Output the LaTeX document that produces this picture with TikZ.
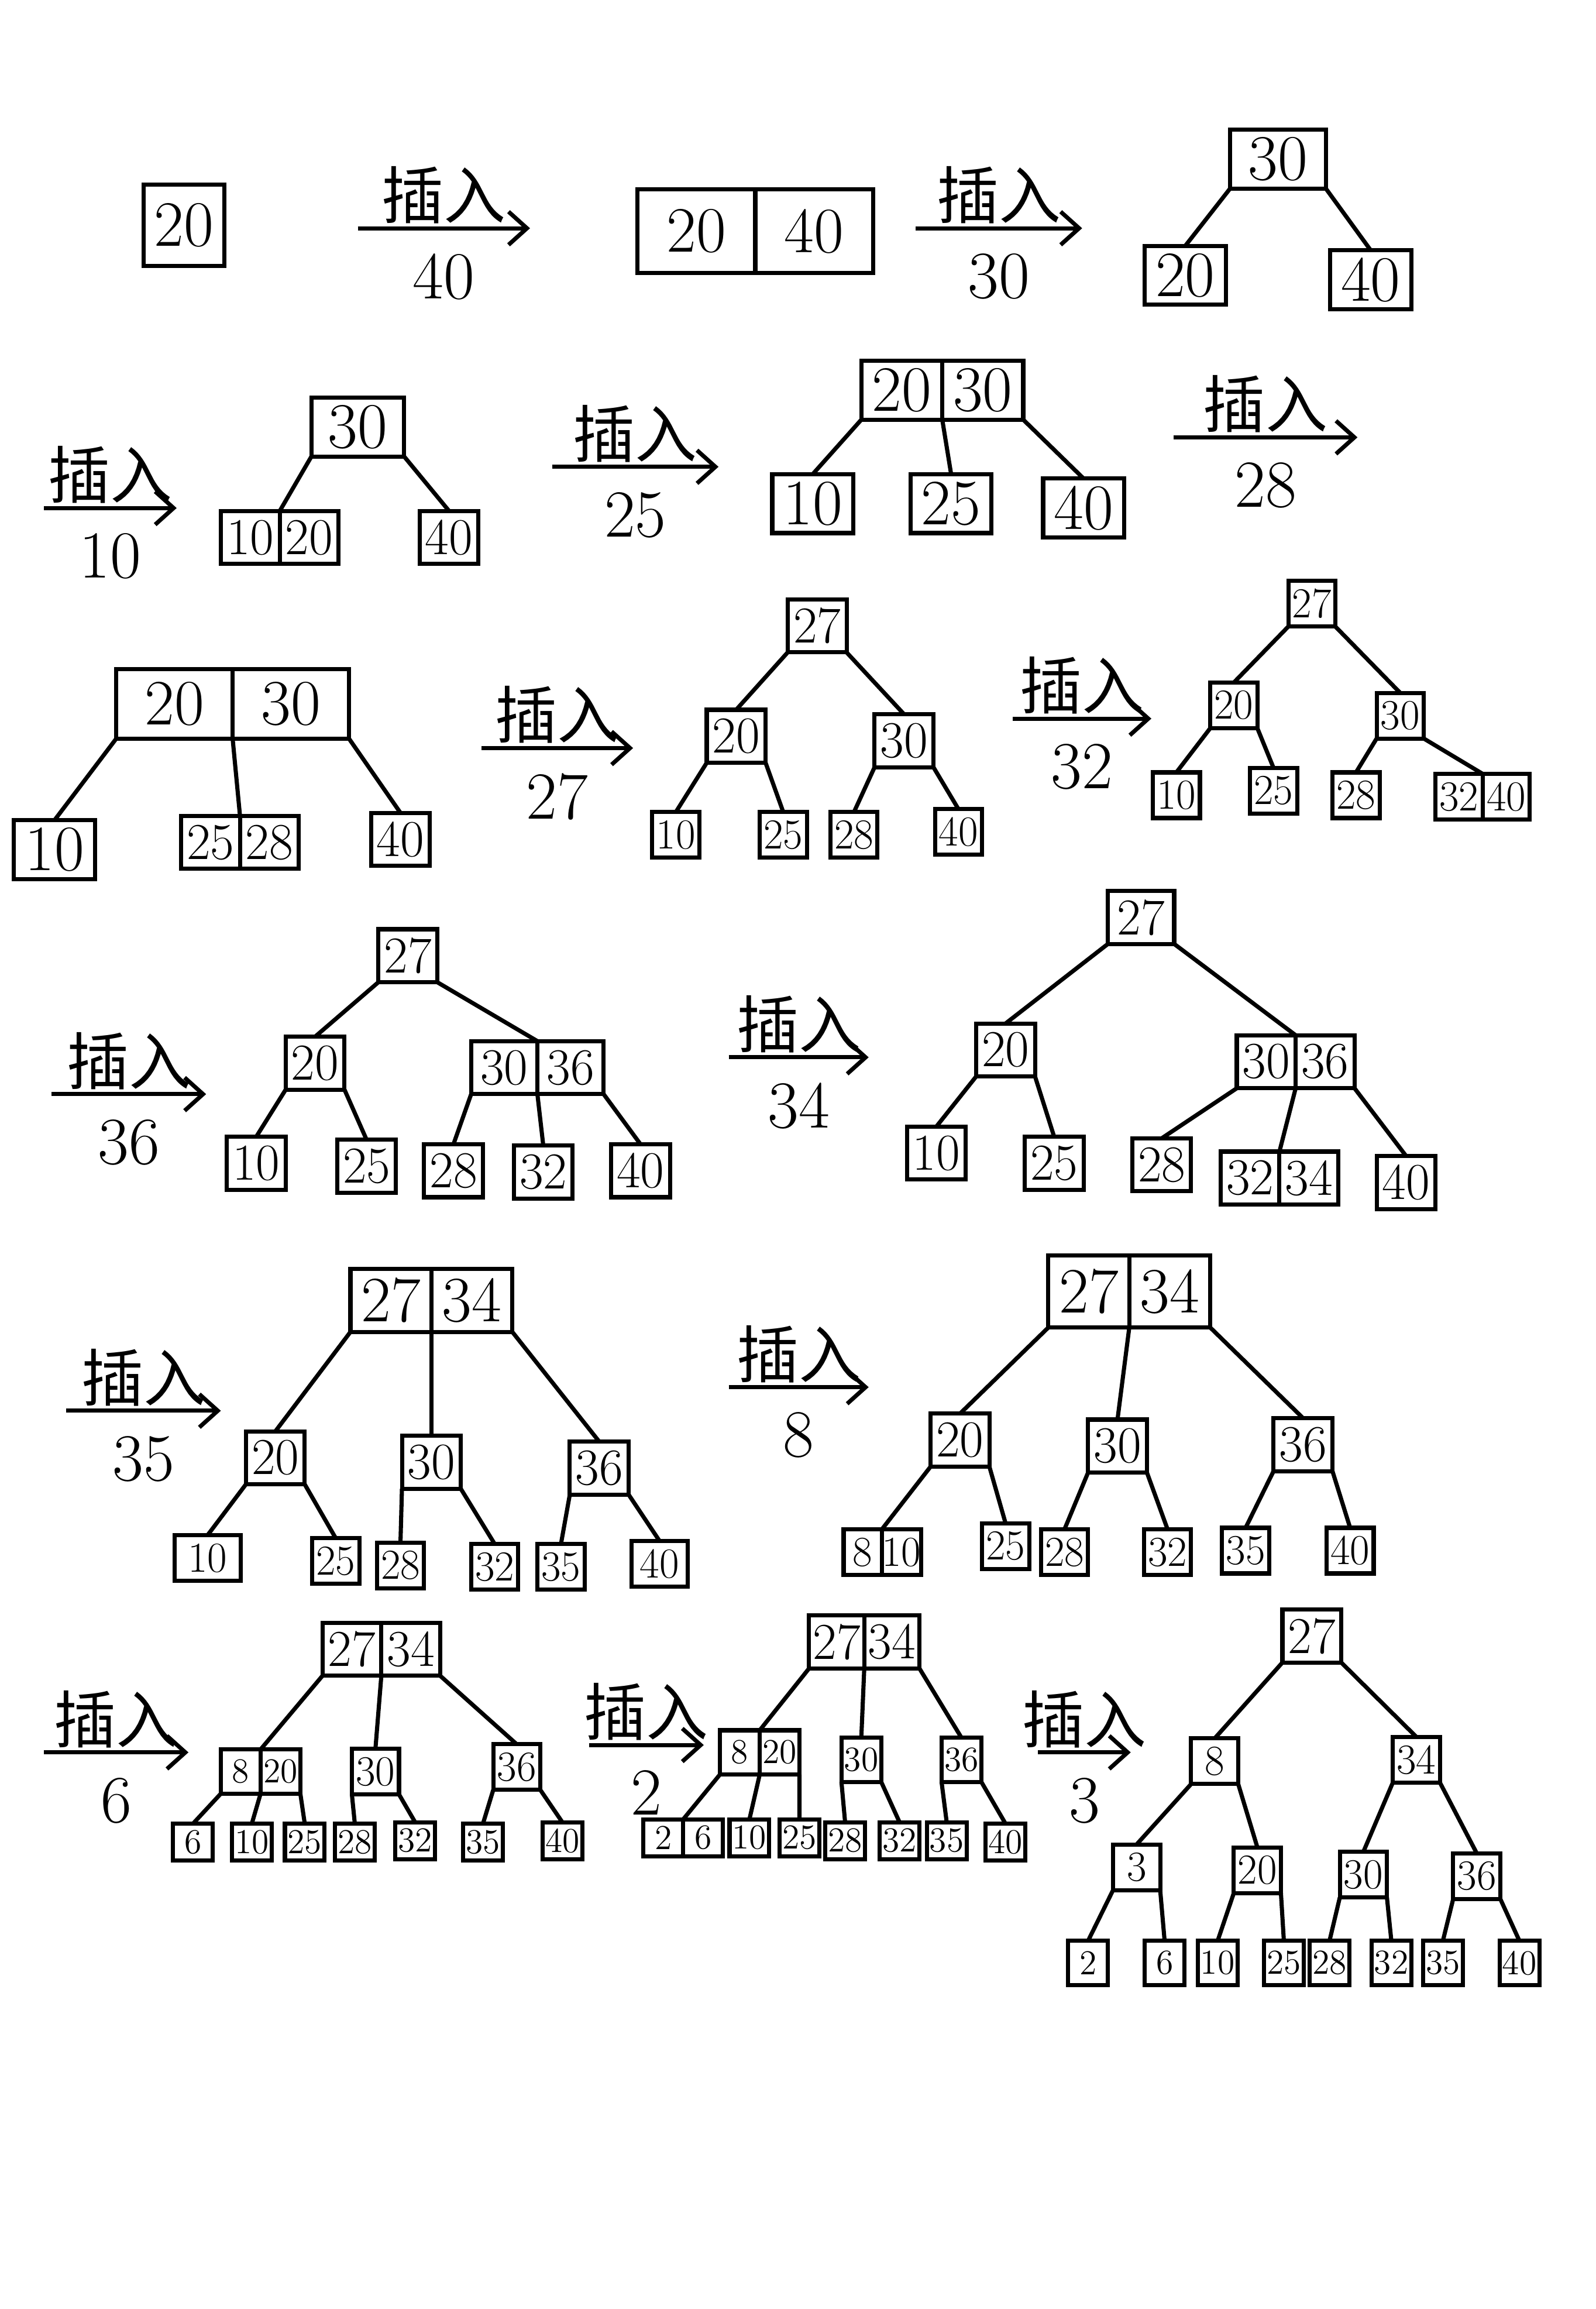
\documentclass[tikz,border=0pt]{standalone}
\usepackage{fontspec}
\newfontfamily\cjk{Noto Sans CJK SC}
\usetikzlibrary{positioning,arrows.meta}

\begin{document}
\begin{tikzpicture}[x=0.02cm, y=-0.02cm,
  >={Straight Barb[length=2.5mm,width=4.5mm]},
  key/.style={draw, line width=1.6pt, inner sep=0pt, outer sep=0pt},
  kbig/.style={key, minimum width=1.1cm, minimum height=0.8cm, font=\fontsize{25}{25}\selectfont},
  kmed/.style={key, minimum width=0.8cm, minimum height=0.72cm, font=\fontsize{20}{20}\selectfont},
  ksml/.style={key, minimum width=0.64cm, minimum height=0.62cm, font=\fontsize{16.5}{16.5}\selectfont},
  ktny/.style={key, minimum width=0.54cm, minimum height=0.5cm, font=\fontsize{13.5}{13.5}\selectfont},
  link/.style={line width=1.6pt},
  ins/.style={->, line width=1.6pt},
  verb/.style={above, inner sep=1pt, font=\cjk\fontsize{24}{24}\selectfont},
  val/.style={below, inner sep=9pt, font=\fontsize{26}{26}\selectfont}]
  \useasboundingbox (0,0) rectangle (1084,1568);

  % row 1
  \node[kbig, minimum height=1.1cm] (n20) at (125,153) {20};
  \coordinate (i1s) at (243,155); \coordinate (i1e) at (360,155);
  \draw[ins] (i1s) -- node[verb] {插入} node[val] {40} (i1e);
  \node[kbig, minimum width=1.6cm, minimum height=1.14cm, anchor=east] (p20) at (513,157) {20};
  \node[kbig, minimum width=1.6cm, minimum height=1.14cm, anchor=west] (p40) at (513,157) {40};
  \coordinate (i2s) at (622,155); \coordinate (i2e) at (735,155);
  \draw[ins] (i2s) -- node[verb] {插入} node[val] {30} (i2e);
  \node[kbig, minimum width=1.3cm] (a30) at (868,108) {30};
  \node[kbig] (a20) at (805,187) {20};
  \node[kbig] (a40) at (931,190) {40};
  \draw[link] (a30.south west) -- (a20.north);
  \draw[link] (a30.south east) -- (a40.north);

  % row 2
  \coordinate (i3s) at (30,345); \coordinate (i3e) at (120,345);
  \draw[ins] (i3s) -- node[verb] {插入} node[val] {10} (i3e);
  \node[kbig, minimum width=1.26cm] (b30) at (243,290) {30};
  \node[kmed, anchor=east] (b10) at (190,365) {10};
  \node[kmed, anchor=west] (b20) at (190,365) {20};
  \node[kmed] (b40) at (305,365) {40};
  \draw[link] (b30.south west) -- (b10.north east);
  \draw[link] (b30.south east) -- (b40.north);

  \coordinate (i4s) at (375,317); \coordinate (i4e) at (488,317);
  \draw[ins] (i4s) -- node[verb] {插入} node[val] {25} (i4e);
  \node[kbig, anchor=east] (c20) at (640,265) {20};
  \node[kbig, anchor=west] (c30) at (640,265) {30};
  \node[kbig] (c10) at (552,342) {10};
  \node[kbig] (c25) at (646,342) {25};
  \node[kbig] (c40) at (736,345) {40};
  \foreach \u/\v in {c20.south west/c10.north, c20.south east/c25.north, c30.south east/c40.north}
    \draw[link] (\u) -- (\v);

  \coordinate (i5s) at (797,297); \coordinate (i5e) at (922,297);
  \draw[ins] (i5s) -- node[verb] {插入} node[val] {28} (i5e);

  % row 3
  \node[kbig, minimum width=1.58cm, minimum height=0.94cm, anchor=east] (d20) at (158,478) {20};
  \node[kbig, minimum width=1.58cm, minimum height=0.94cm, anchor=west] (d30) at (158,478) {30};
  \node[kbig] (d10) at (37,577) {10};
  \node[kmed, anchor=east] (d25) at (163,572) {25};
  \node[kmed, anchor=west] (d28) at (163,572) {28};
  \node[kmed] (d40) at (272,570) {40};
  \foreach \u/\v in {d20.south west/d10.north, d20.south east/d25.north east, d30.south east/d40.north}
    \draw[link] (\u) -- (\v);

  \coordinate (i6s) at (327,508); \coordinate (i6e) at (430,508);
  \draw[ins] (i6s) -- node[verb] {插入} node[val] {27} (i6e);
  \node[kmed] (e27) at (555,425) {27};
  \node[kmed] (e20) at (500,500) {20};
  \node[kmed] (e30) at (614,503) {30};
  \node[ksml] (e10) at (459,567) {10};
  \node[ksml] (e25) at (532,567) {25};
  \node[ksml] (e28) at (580,567) {28};
  \node[ksml] (e40) at (651,565) {40};
  \foreach \u/\v in {e27.south west/e20.north, e27.south east/e30.north,
      e20.south west/e10.north, e20.south east/e25.north,
      e30.south west/e28.north, e30.south east/e40.north}
    \draw[link] (\u) -- (\v);

  \coordinate (i7s) at (688,488); \coordinate (i7e) at (782,488);
  \draw[ins] (i7s) -- node[verb] {插入} node[val] {32} (i7e);
  \node[ksml] (f27) at (891,410) {27};
  \node[ksml] (f20) at (838,479) {20};
  \node[ksml] (f30) at (951,486) {30};
  \node[ksml] (f10) at (799,540) {10};
  \node[ksml] (f25) at (865,537) {25};
  \node[ksml] (f28) at (921,540) {28};
  \node[ksml, anchor=east] (f32) at (1007,541) {32};
  \node[ksml, anchor=west] (f40) at (1007,541) {40};
  \foreach \u/\v in {f27.south west/f20.north, f27.south east/f30.north,
      f20.south west/f10.north, f20.south east/f25.north,
      f30.south west/f28.north, f30.south east/f32.north east}
    \draw[link] (\u) -- (\v);

  % row 4
  \coordinate (i8s) at (35,743); \coordinate (i8e) at (140,743);
  \draw[ins] (i8s) -- node[verb] {插入} node[val] {36} (i8e);
  \node[kmed] (g27) at (277,649) {27};
  \node[kmed] (g20) at (214,722) {20};
  \node[kmed, minimum width=0.9cm, anchor=east] (g30) at (365,725) {30};
  \node[kmed, minimum width=0.9cm, anchor=west] (g36) at (365,725) {36};
  \node[kmed] (g10) at (174,790) {10};
  \node[kmed] (g25) at (249,792) {25};
  \node[kmed] (g28) at (308,795) {28};
  \node[kmed] (g32) at (369,796) {32};
  \node[kmed] (g40) at (435,795) {40};
  \foreach \u/\v in {g27.south west/g20.north, g27.south east/g30.north east,
      g20.south west/g10.north, g20.south east/g25.north,
      g30.south west/g28.north, g30.south east/g32.north, g36.south east/g40.north}
    \draw[link] (\u) -- (\v);

  \coordinate (i9s) at (495,718); \coordinate (i9e) at (590,718);
  \draw[ins] (i9s) -- node[verb] {插入} node[val] {34} (i9e);
  \node[kmed, minimum width=0.9cm] (h27) at (775,623) {27};
  \node[kmed] (h20) at (683,713) {20};
  \node[kmed, anchor=east] (h30) at (880,721) {30};
  \node[kmed, anchor=west] (h36) at (880,721) {36};
  \node[kmed] (h10) at (636,783) {10};
  \node[kmed] (h25) at (716,790) {25};
  \node[kmed] (h28) at (789,791) {28};
  \node[kmed, anchor=east] (h32) at (869,800) {32};
  \node[kmed, anchor=west] (h34) at (869,800) {34};
  \node[kmed] (h40) at (955,803) {40};
  \foreach \u/\v in {h27.south west/h20.north, h27.south east/h30.north east,
      h20.south west/h10.north, h20.south east/h25.north,
      h30.south west/h28.north, h30.south east/h32.north east, h36.south east/h40.north}
    \draw[link] (\u) -- (\v);

  % row 5
  \coordinate (i10s) at (45,958); \coordinate (i10e) at (150,958);
  \draw[ins] (i10s) -- node[verb] {插入} node[val] {35} (i10e);
  \node[kbig, minimum height=0.86cm, anchor=east] (i27) at (293,883) {27};
  \node[kbig, minimum height=0.86cm, anchor=west] (i34) at (293,883) {34};
  \node[kmed] (i20) at (187,990) {20};
  \node[kmed] (i30) at (293,993) {30};
  \node[kmed] (i36) at (407,997) {36};
  \node[ksml, minimum width=0.9cm] (i10) at (141,1058) {10};
  \node[ksml] (i25) at (228,1060) {25};
  \node[ksml] (i28) at (272,1063) {28};
  \node[ksml] (i32) at (336,1064) {32};
  \node[ksml] (i35) at (381,1064) {35};
  \node[ksml, minimum width=0.76cm] (i40) at (448,1062) {40};
  \foreach \u/\v in {i27.south west/i20.north, i27.south east/i30.north, i34.south east/i36.north,
      i20.south west/i10.north, i20.south east/i25.north,
      i30.south west/i28.north, i30.south east/i32.north,
      i36.south west/i35.north, i36.south east/i40.north}
    \draw[link] (\u) -- (\v);

  \coordinate (i11s) at (495,942); \coordinate (i11e) at (590,942);
  \draw[ins] (i11s) -- node[verb] {插入} node[val] {8} (i11e);
  \node[kbig, minimum height=0.98cm, anchor=east] (j27) at (767,877) {27};
  \node[kbig, minimum height=0.98cm, anchor=west] (j34) at (767,877) {34};
  \node[kmed] (j20) at (652,978) {20};
  \node[kmed] (j30) at (759,982) {30};
  \node[kmed] (j36) at (885,981) {36};
  \node[ksml, minimum width=0.52cm, anchor=east] (j8) at (599,1054) {8};
  \node[ksml, minimum width=0.52cm, anchor=west] (j10) at (599,1054) {10};
  \node[ksml] (j25) at (683,1050) {25};
  \node[ksml] (j28) at (723,1054) {28};
  \node[ksml] (j32) at (793,1054) {32};
  \node[ksml] (j35) at (846,1053) {35};
  \node[ksml] (j40) at (917,1053) {40};
  \foreach \u/\v in {j27.south west/j20.north, j27.south east/j30.north, j34.south east/j36.north,
      j20.south west/j8.north east, j20.south east/j25.north,
      j30.south west/j28.north, j30.south east/j32.north,
      j36.south west/j35.north, j36.south east/j40.north}
    \draw[link] (\u) -- (\v);

  % row 6
  \coordinate (i12s) at (30,1190); \coordinate (i12e) at (128,1190);
  \draw[ins] (i12s) -- node[verb] {插入} node[val] {6} (i12e);
  \node[kmed, anchor=east] (k27) at (259,1120) {27};
  \node[kmed, anchor=west] (k34) at (259,1120) {34};
  \node[ktny, minimum height=0.6cm, anchor=east] (k8) at (177,1203) {8};
  \node[ktny, minimum height=0.6cm, anchor=west] (k20) at (177,1203) {20};
  \node[ksml] (k30) at (255,1203) {30};
  \node[ksml] (k36) at (351,1200) {36};
  \node[ktny] (k6) at (131,1251) {6};
  \node[ktny] (k10) at (171,1251) {10};
  \node[ktny] (k25) at (207,1251) {25};
  \node[ktny] (k28) at (241,1251) {28};
  \node[ktny] (k32) at (282,1250) {32};
  \node[ktny] (k35) at (328,1251) {35};
  \node[ktny] (k40) at (382,1250) {40};
  \foreach \u/\v in {k27.south west/k8.north east, k27.south east/k30.north, k34.south east/k36.north,
      k8.south west/k6.north, k8.south east/k10.north, k20.south east/k25.north,
      k30.south west/k28.north, k30.south east/k32.north,
      k36.south west/k35.north, k36.south east/k40.north}
    \draw[link] (\u) -- (\v);

  \coordinate (i13s) at (400,1185); \coordinate (i13e) at (478,1185);
  \draw[ins] (i13s) -- node[verb] {插入} node[val] {2} (i13e);
  \node[kmed, minimum width=0.75cm, anchor=east] (l27) at (587,1115) {27};
  \node[kmed, minimum width=0.75cm, anchor=west] (l34) at (587,1115) {34};
  \node[ktny, minimum height=0.6cm, anchor=east] (l8) at (516,1190) {8};
  \node[ktny, minimum height=0.6cm, anchor=west] (l20) at (516,1190) {20};
  \node[ktny, minimum height=0.6cm] (l30) at (585,1195) {30};
  \node[ktny, minimum height=0.6cm] (l36) at (653,1195) {36};
  \node[ktny, anchor=east] (l2) at (464,1248) {2};
  \node[ktny, anchor=west] (l6) at (464,1248) {6};
  \node[ktny] (l10) at (509,1248) {10};
  \node[ktny] (l25) at (543,1248) {25};
  \node[ktny] (l28) at (574,1250) {28};
  \node[ktny] (l32) at (611,1250) {32};
  \node[ktny] (l35) at (643,1250) {35};
  \node[ktny] (l40) at (683,1251) {40};
  \foreach \u/\v in {l27.south west/l8.north east, l27.south east/l30.north, l34.south east/l36.north,
      l8.south west/l2.north east, l8.south east/l10.north, l20.south east/l25.north,
      l30.south west/l28.north, l30.south east/l32.north,
      l36.south west/l35.north, l36.south east/l40.north}
    \draw[link] (\u) -- (\v);

  \coordinate (i14s) at (705,1190); \coordinate (i14e) at (768,1190);
  \draw[ins] (i14s) -- node[verb] {插入} node[val] {3} (i14e);
  \node[kmed] (m27) at (891,1111) {27};
  \node[ksml] (m8) at (825,1196) {8};
  \node[ksml] (m34) at (962,1195) {34};
  \node[ksml] (m3) at (772,1268) {3};
  \node[ksml] (m20) at (854,1270) {20};
  \node[ksml] (m30) at (926,1273) {30};
  \node[ksml] (m36) at (1003,1274) {36};
  \node[ktny, minimum height=0.6cm] (m2) at (739,1333) {2};
  \node[ktny, minimum height=0.6cm] (m6) at (791,1333) {6};
  \node[ktny, minimum height=0.6cm] (m10) at (827,1333) {10};
  \node[ktny, minimum height=0.6cm] (m25) at (872,1333) {25};
  \node[ktny, minimum height=0.6cm] (m28) at (903,1333) {28};
  \node[ktny, minimum height=0.6cm] (m32) at (945,1333) {32};
  \node[ktny, minimum height=0.6cm] (m35) at (980,1333) {35};
  \node[ktny, minimum height=0.6cm] (m40) at (1032,1333) {40};
  \foreach \u/\v in {m27.south west/m8.north, m27.south east/m34.north,
      m8.south west/m3.north, m8.south east/m20.north,
      m34.south west/m30.north, m34.south east/m36.north,
      m3.south west/m2.north, m3.south east/m6.north,
      m20.south west/m10.north, m20.south east/m25.north,
      m30.south west/m28.north, m30.south east/m32.north,
      m36.south west/m35.north, m36.south east/m40.north}
    \draw[link] (\u) -- (\v);
\end{tikzpicture}
\end{document}
